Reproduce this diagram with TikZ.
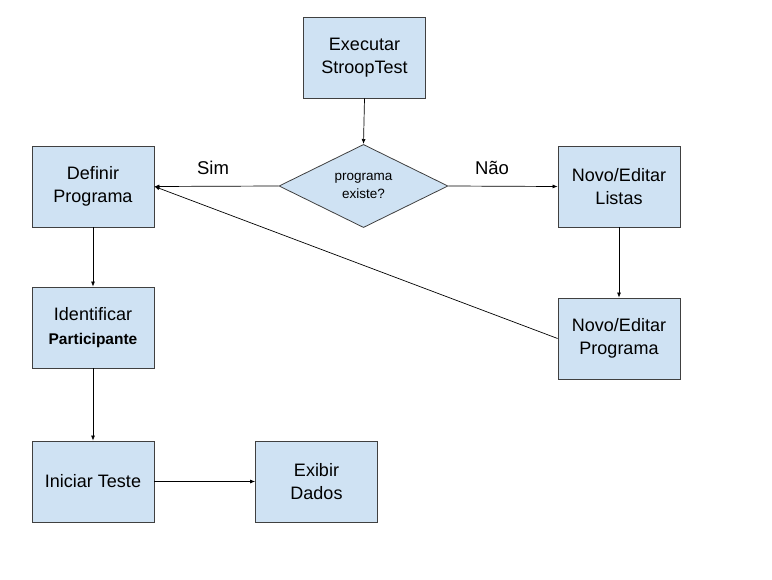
\documentclass[tikz,border=0pt]{standalone}
\usepackage{fontspec}
\setmainfont{Liberation Sans}
\usetikzlibrary{arrows.meta,shapes.geometric}
\definecolor{boxfill}{HTML}{CFE2F3}
\definecolor{boxline}{HTML}{404040}
\begin{document}
\begin{tikzpicture}[x=1pt,y=-1pt,
  box/.style={draw=boxline,fill=boxfill,line width=0.8pt,minimum width=122pt,minimum height=81pt,inner sep=0pt,align=center,font=\fontsize{18}{23.5}\selectfont},
  dec/.style={draw=boxline,fill=boxfill,line width=0.8pt,diamond,minimum width=169pt,minimum height=72pt,inner sep=0pt,align=center,font=\fontsize{13.5}{18}\selectfont},
  conn/.style={draw=black,line width=0.7pt,-{Latex[length=5pt,width=4pt]}},
  lab/.style={font=\fontsize{18.5}{22}\selectfont}]
\useasboundingbox (0,0) rectangle (772,580);
\node[box] (exe) at (364.5,57.5) {Executar\\StroopTest};
\node[dec] (dia) at (363.5,186) {programa\\existe?};
\node[box] (def) at (93,186.5) {Definir\\Programa};
\node[box] (lis) at (619,186.5) {Novo/Editar\\Listas};
\node[box] (idf) at (93,327.5) {Identificar\\{\bfseries\fontsize{15.5}{20}\selectfont Participante}};
\node[box] (prg) at (619,338.5) {Novo/Editar\\Programa};
\node[box] (ini) at (93,481.5) {Iniciar Teste};
\node[box] (exb) at (316.5,481.5) {Exibir\\Dados};
\node[lab] (sim) at (213,168) {Sim};
\node[lab] (nao) at (492,168) {Não};
\draw[conn] (exe.south) -- (dia.north);
\draw[conn] (dia.west) -- (def.east);
\draw[conn] (dia.east) -- (lis.west);
\draw[conn] (lis.south) -- (prg.north);
\draw[conn] (prg.west) -- (def.east);
\draw[conn] (def.south) -- (idf.north);
\draw[conn] (idf.south) -- (ini.north);
\draw[conn] (ini.east) -- (exb.west);
\end{tikzpicture}
\end{document}
